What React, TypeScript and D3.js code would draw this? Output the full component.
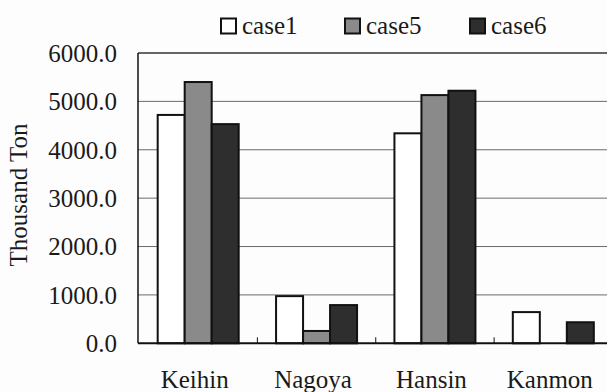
import React from "react";
import * as d3 from "d3";

const categories = ["Keihin", "Nagoya", "Hansin", "Kanmon"];
const seriesNames = ["case1", "case5", "case6"];
const case1 = [4720, 975, 4340, 645];
const case5 = [5400, 255, 5130, 0];
const case6 = [4530, 790, 5220, 435];
const yTicks = [0, 1000, 2000, 3000, 4000, 5000, 6000];

const W = 607;
const H = 392;
const FONT = "Liberation Serif, DejaVu Serif, serif";

export default function App() {
  const seriesValues = [case1, case5, case6];
  const fills = ["#ffffff", "#8a8a8a", "#2e2e2e"];

  const x = d3.scaleBand<string>().domain(categories).range([139, 612.5]).padding(0);
  const y = d3.scaleLinear().domain([0, 6000]).range([343.3, 53]);
  const groupW = 81;
  const inner = d3.scaleBand<string>().domain(seriesNames).range([0, groupW]).padding(0);
  const axisX = 138;
  const plotRight = 612.5;

  const legendX = [221, 345, 470];
  const txt = { fontFamily: FONT, fontSize: "25px" } as React.CSSProperties;

  return (
    <svg
      width={W}
      height={H}
      style={{ position: "absolute", left: 0, top: 0, background: "#fdfdfd", fontFamily: FONT }}
    >
      <rect x={0} y={0} width={W} height={H} fill="#fdfdfd" />
      {yTicks.filter((t) => t > 0 && t < 6000).map((t) => (
        <line key={t} x1={axisX} x2={plotRight} y1={y(t)} y2={y(t)} stroke="#6a6a6a" strokeWidth={1} />
      ))}
      <line x1={axisX} x2={plotRight} y1={y(6000)} y2={y(6000)} stroke="#333" strokeWidth={1.5} />
      {categories.map((c, ci) => {
        const off = (x.bandwidth() - groupW) / 2;
        return seriesNames.map((s, si) => {
          const v = seriesValues[si][ci];
          if (v <= 0) return null;
          const bx = (x(c) as number) + off + (inner(s) as number);
          return (
            <rect
              key={c + s}
              x={bx}
              y={y(v)}
              width={inner.bandwidth()}
              height={y(0) - y(v)}
              fill={fills[si]}
              stroke="#111"
              strokeWidth={2}
            />
          );
        });
      })}
      <line x1={axisX} x2={axisX} y1={y(6000)} y2={y(0)} stroke="#111" strokeWidth={1.5} />
      <line x1={axisX} x2={plotRight} y1={y(0)} y2={y(0)} stroke="#111" strokeWidth={2} />
      {categories.slice(1).map((c) => (
        <line key={c} x1={x(c) as number} x2={x(c) as number} y1={y(0)} y2={y(0) - 6} stroke="#111" strokeWidth={1} />
      ))}
      {yTicks.map((t) => (
        <text key={t} x={117} y={y(t)} dy="0.35em" textAnchor="end" style={txt} fill="#1a1a1a">
          {d3.format(".1f")(t)}
        </text>
      ))}
      {categories.map((c) => (
        <text
          key={c}
          x={(x(c) as number) + x.bandwidth() / 2 - 3.5}
          y={388}
          textAnchor="middle"
          style={txt}
          fill="#1a1a1a"
        >
          {c}
        </text>
      ))}
      <text transform="translate(27,195) rotate(-90)" textAnchor="middle" style={txt} fill="#1a1a1a">
        Thousand Ton
      </text>
      {seriesNames.map((s, i) => (
        <g key={s}>
          <rect x={legendX[i]} y={18.5} width={15} height={15} fill={fills[i]} stroke="#111" strokeWidth={2} />
          <text x={legendX[i] + 21} y={34} style={txt} fill="#1a1a1a">
            {s}
          </text>
        </g>
      ))}
    </svg>
  );
}
